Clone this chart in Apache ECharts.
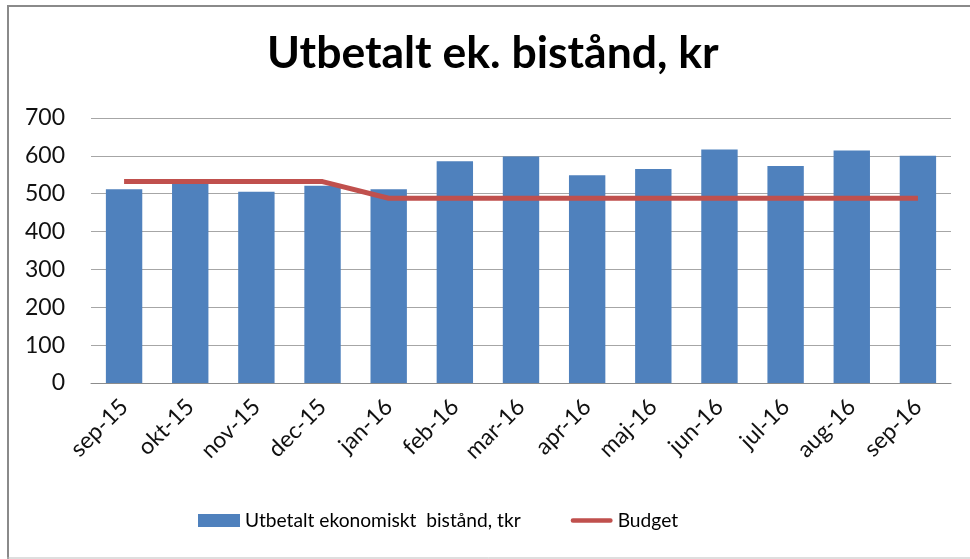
<!DOCTYPE html>
<html>
<head>
<meta charset="utf-8">
<script src="https://cdn.jsdelivr.net/npm/echarts@6/dist/echarts.min.js"></script>
<style>
html,body{margin:0;padding:0;background:#fff;}
#c{width:970px;height:559px;}
</style>
</head>
<body>
<div id="c"></div>
<script>
var categories = ["sep-15","okt-15","nov-15","dec-15","jan-16","feb-16","mar-16","apr-16","maj-16","jun-16","jul-16","aug-16","sep-16"];
var utbetalt = [512,527,505,521,512,586,598,549,565,617,573,614,600];
var budget = [532,532,532,532,488,488,488,488,488,488,488,488,488];
var seriesNames = ["Utbetalt ekonomiskt  bistånd, tkr","Budget"];
var titleText = "Utbetalt ek. bistånd, kr";

var font = "Lato";
var chart = echarts.init(document.getElementById('c'), null, {renderer:'canvas'});
chart.setOption({
  animation:false,
  backgroundColor:'#ffffff',
  textStyle:{fontFamily:font},
  title:{
    text:titleText,
    left:262,
    top:26,
    textStyle:{fontFamily:font,fontSize:44.5,fontWeight:'bold',color:'#000'}
  },
  grid:{left:91,right:19,top:118,bottom:176,containLabel:false},
  legend:{
    bottom:24,
    left:193,
    itemGap:50,
    itemWidth:42,
    itemHeight:13,
    textStyle:{fontFamily:font,fontSize:19.2,color:'#000'},
    data:[
      {name:seriesNames[0],icon:'rect'},
      {name:seriesNames[1],icon:'path://M2.5,0 L44.5,0 A2.5,2.5 0 0 1 44.5,5 L2.5,5 A2.5,2.5 0 0 1 2.5,0 Z',itemStyle:{color:'#C0504D'}}
    ]
  },
  xAxis:{
    type:'category',
    data:categories,
    axisLine:{lineStyle:{color:'#8c8c8c',width:1}},
    axisTick:{show:false},
    axisLabel:{rotate:45,fontFamily:font,fontSize:23,color:'#111',margin:20,interval:0}
  },
  yAxis:{
    type:'value',
    min:0,max:700,interval:100,
    axisLine:{show:false},
    axisTick:{show:false},
    splitLine:{lineStyle:{color:'#a6a6a6',width:1}},
    axisLabel:{fontFamily:font,fontSize:23,color:'#111',margin:26}
  },
  series:[
    {
      name:seriesNames[0],
      type:'bar',
      data:utbetalt,
      barCategoryGap:'45%',
      itemStyle:{color:'#4F81BD'}
    },
    {
      name:seriesNames[1],
      type:'line',
      data:budget,
      symbol:'none',
      lineStyle:{color:'#C0504D',width:5},
      itemStyle:{color:'#C0504D'}
    }
  ],
  graphic:[
    {type:'line',shape:{x1:8,y1:6,x2:8,y2:559},style:{stroke:'#8a8a8a',lineWidth:2}},
    {type:'line',shape:{x1:7,y1:6,x2:970,y2:6},style:{stroke:'#8a8a8a',lineWidth:2}},
    {type:'line',shape:{x1:7,y1:558,x2:970,y2:558},style:{stroke:'#bdbdbd',lineWidth:1}}
  ]
});
</script>
</body>
</html>
